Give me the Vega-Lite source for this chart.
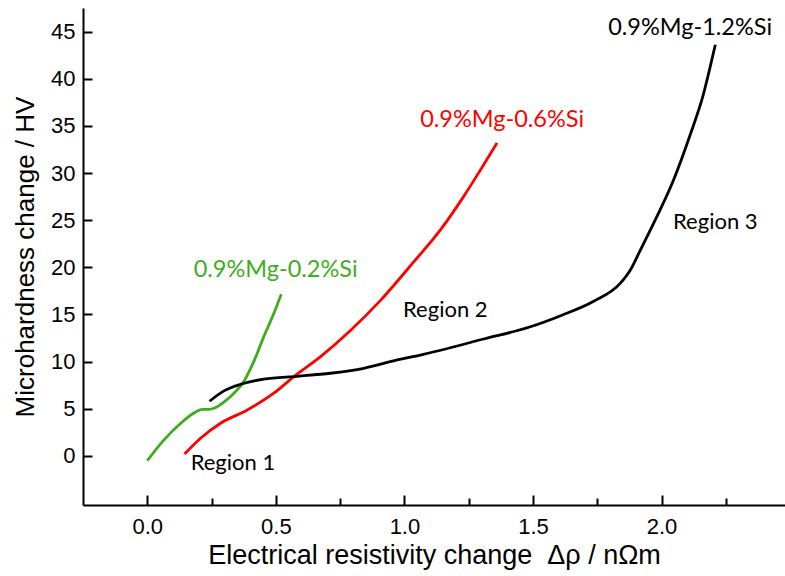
{
  "$schema": "https://vega.github.io/schema/vega-lite/v6.json",
  "width": 702,
  "height": 497,
  "autosize": {"type": "none"},
  "padding": {"left": 83, "right": 0, "top": 8, "bottom": 71},
  "background": "white",
  "config": {
    "view": {"stroke": null},
    "axis": {
      "domainColor": "black",
      "domainWidth": 2,
      "tickColor": "black",
      "tickWidth": 2,
      "labelFont": "Liberation Sans",
      "labelColor": "black",
      "titleFont": "Liberation Sans",
      "titleColor": "black",
      "titleFontWeight": "normal",
      "grid": false
    }
  },
  "datasets": {
    "curves": [
      {"series": "0.2Si", "x": 0.0, "y": -0.5},
      {"series": "0.2Si", "x": 0.065, "y": 1.7},
      {"series": "0.2Si", "x": 0.13, "y": 3.47},
      {"series": "0.2Si", "x": 0.18, "y": 4.53},
      {"series": "0.2Si", "x": 0.214, "y": 4.95},
      {"series": "0.2Si", "x": 0.24, "y": 4.95},
      {"series": "0.2Si", "x": 0.26, "y": 5.06},
      {"series": "0.2Si", "x": 0.3, "y": 5.76},
      {"series": "0.2Si", "x": 0.337, "y": 6.65},
      {"series": "0.2Si", "x": 0.375, "y": 7.88},
      {"series": "0.2Si", "x": 0.414, "y": 10.0},
      {"series": "0.2Si", "x": 0.453, "y": 12.65},
      {"series": "0.2Si", "x": 0.492, "y": 15.1},
      {"series": "0.2Si", "x": 0.521, "y": 17.15},
      {"series": "0.6Si", "x": 0.145, "y": 0.21},
      {"series": "0.6Si", "x": 0.207, "y": 1.88},
      {"series": "0.6Si", "x": 0.285, "y": 3.47},
      {"series": "0.6Si", "x": 0.389, "y": 4.88},
      {"series": "0.6Si", "x": 0.492, "y": 6.65},
      {"series": "0.6Si", "x": 0.57, "y": 8.41},
      {"series": "0.6Si", "x": 0.674, "y": 10.53},
      {"series": "0.6Si", "x": 0.79, "y": 13.3},
      {"series": "0.6Si", "x": 0.907, "y": 16.5},
      {"series": "0.6Si", "x": 1.036, "y": 20.57},
      {"series": "0.6Si", "x": 1.14, "y": 23.97},
      {"series": "0.6Si", "x": 1.23, "y": 27.5},
      {"series": "0.6Si", "x": 1.295, "y": 30.3},
      {"series": "0.6Si", "x": 1.36, "y": 33.2},
      {"series": "1.2Si", "x": 0.242, "y": 5.8},
      {"series": "1.2Si", "x": 0.298, "y": 6.9},
      {"series": "1.2Si", "x": 0.363, "y": 7.6},
      {"series": "1.2Si", "x": 0.453, "y": 8.15},
      {"series": "1.2Si", "x": 0.583, "y": 8.45},
      {"series": "1.2Si", "x": 0.712, "y": 8.77},
      {"series": "1.2Si", "x": 0.842, "y": 9.3},
      {"series": "1.2Si", "x": 0.972, "y": 10.18},
      {"series": "1.2Si", "x": 1.062, "y": 10.7},
      {"series": "1.2Si", "x": 1.308, "y": 12.4},
      {"series": "1.2Si", "x": 1.49, "y": 13.7},
      {"series": "1.2Si", "x": 1.61, "y": 14.9},
      {"series": "1.2Si", "x": 1.736, "y": 16.4},
      {"series": "1.2Si", "x": 1.839, "y": 18.3},
      {"series": "1.2Si", "x": 1.878, "y": 19.7},
      {"series": "1.2Si", "x": 1.917, "y": 21.8},
      {"series": "1.2Si", "x": 1.982, "y": 25.4},
      {"series": "1.2Si", "x": 2.045, "y": 29.16},
      {"series": "1.2Si", "x": 2.111, "y": 34.04},
      {"series": "1.2Si", "x": 2.162, "y": 38.28},
      {"series": "1.2Si", "x": 2.189, "y": 41.25},
      {"series": "1.2Si", "x": 2.209, "y": 43.6}
    ],
    "names": [
      {"series": "0.2Si", "text": "0.9%Mg-0.2%Si", "x": 0.499, "y": 18.98},
      {"series": "0.6Si", "text": "0.9%Mg-0.6%Si", "x": 1.38, "y": 34.92},
      {"series": "1.2Si", "text": "0.9%Mg-1.2%Si", "x": 2.111, "y": 44.65}
    ],
    "regions": [
      {"series": "1.2Si", "text": "Region 1", "x": 0.333, "y": -1.48},
      {"series": "1.2Si", "text": "Region 2", "x": 1.159, "y": 14.77},
      {"series": "1.2Si", "text": "Region 3", "x": 2.209, "y": 24.04}
    ]
  },
  "layer": [
    {
      "data": {"name": "curves"},
      "mark": {"type": "line", "interpolate": "monotone", "strokeWidth": 2.8, "clip": true},
      "encoding": {
        "x": {
          "field": "x", "type": "quantitative",
          "scale": {"domain": [-0.25, 2.48], "nice": false, "zero": false},
          "axis": {
            "values": [0, 0.5, 1, 1.5, 2], "format": ".1f",
            "tickSize": -10, "labelPadding": 21, "labelFontSize": 22,
            "title": "Electrical resistivity change\u00a0\u00a0Δρ / nΩm",
            "titleFontSize": 27, "titlePadding": 5
          }
        },
        "y": {
          "field": "y", "type": "quantitative",
          "scale": {"domain": [-5.2, 47.5], "nice": false, "zero": false},
          "axis": {
            "values": [0, 5, 10, 15, 20, 25, 30, 35, 40, 45],
            "tickSize": -9, "labelPadding": 17, "labelFontSize": 22,
            "title": "Microhardness change / HV",
            "titleFontSize": 26, "titlePadding": 12
          }
        },
        "color": {
          "field": "series", "type": "nominal",
          "scale": {"domain": ["0.2Si", "0.6Si", "1.2Si"], "range": ["#3fac1e", "#ff0000", "#000000"]},
          "legend": null
        },
        "detail": {"field": "series"}
      }
    },
    {
      "data": {"name": "names"},
      "mark": {"type": "text", "font": "Lato", "fontSize": 23.5, "align": "center", "baseline": "alphabetic"},
      "encoding": {
        "x": {"field": "x", "type": "quantitative",
          "axis": {"orient": "bottom", "values": [0.25, 0.75, 1.25, 1.75, 2.25], "labels": false, "tickSize": -7, "domain": false, "title": null}},
        "y": {"field": "y", "type": "quantitative"},
        "text": {"field": "text"},
        "color": {"field": "series", "type": "nominal", "legend": null}
      }
    },
    {
      "data": {"name": "regions"},
      "mark": {"type": "text", "font": "Lato", "fontSize": 22, "align": "center", "baseline": "alphabetic"},
      "encoding": {
        "x": {"field": "x", "type": "quantitative", "axis": null},
        "y": {"field": "y", "type": "quantitative"},
        "text": {"field": "text"},
        "color": {"field": "series", "type": "nominal", "legend": null}
      }
    },
    {
      "mark": {"type": "rule", "color": "black", "strokeWidth": 2},
      "encoding": {"y": {"datum": 47.5}}
    }
  ],
  "resolve": {"axis": {"x": "independent"}}
}
